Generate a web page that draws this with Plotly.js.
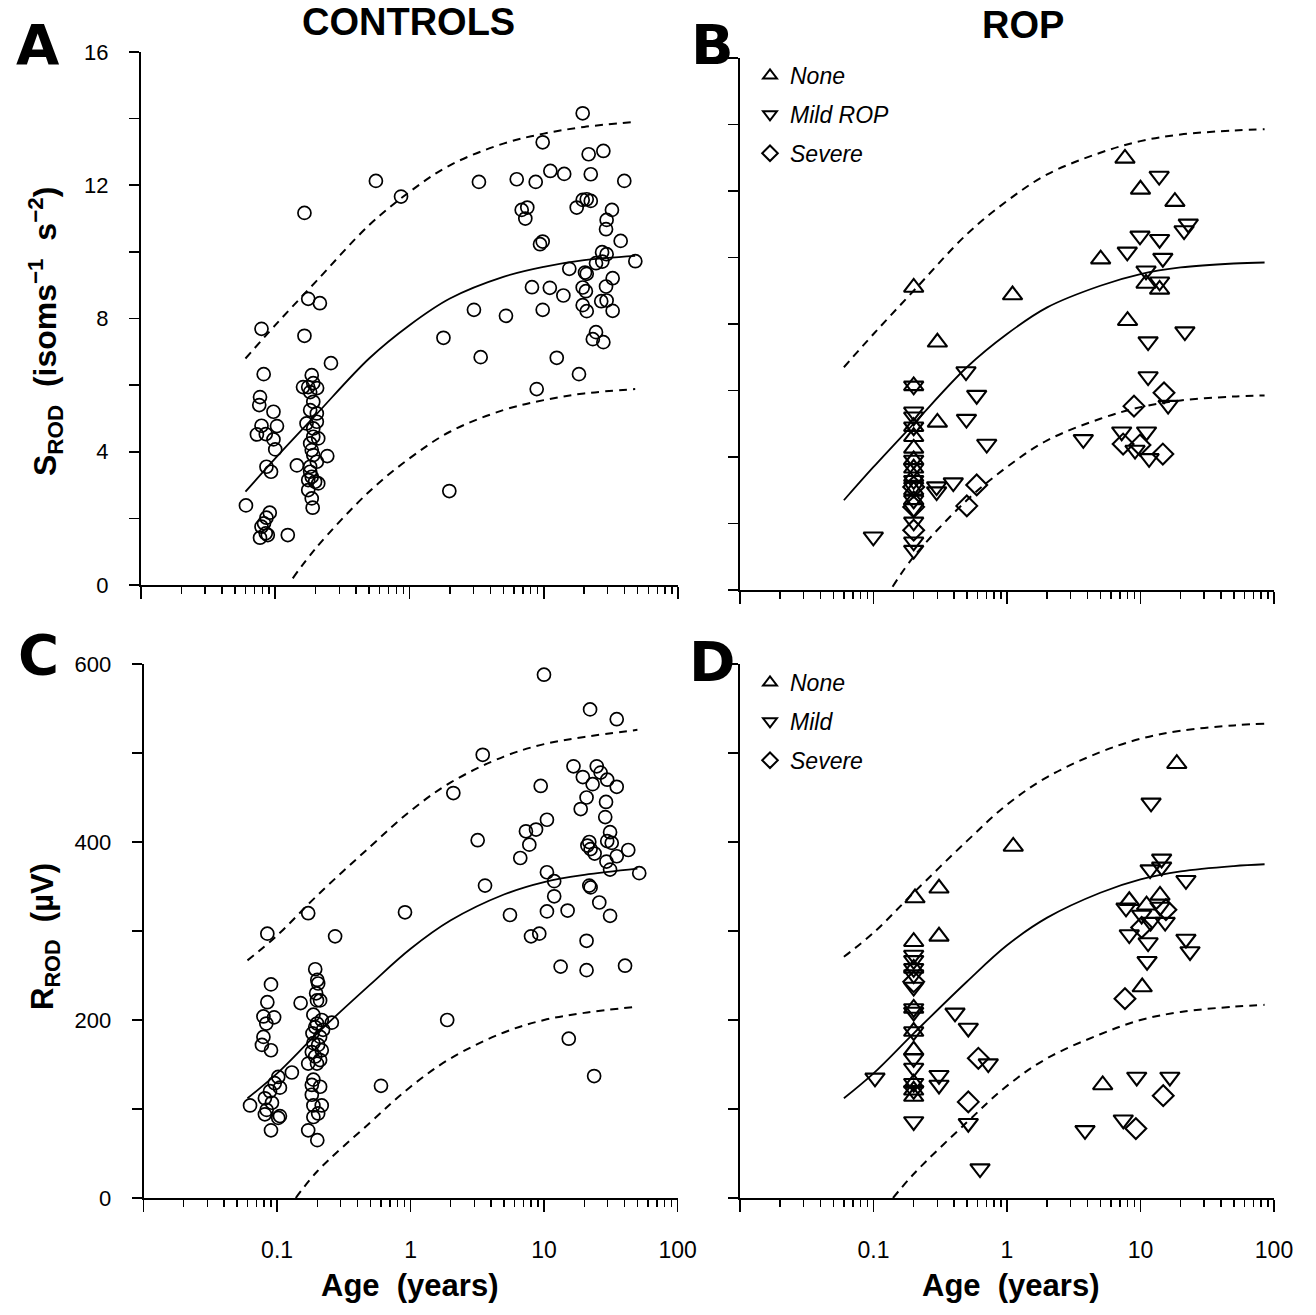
<!DOCTYPE html>
<html><head><meta charset="utf-8">
<script src="https://cdn.plot.ly/plotly-3.0.1.min.js"></script>
<style>html,body{margin:0;padding:0;background:#fff}</style>
</head><body><div id="chart" style="width:1316px;height:1315px"></div>
<script>
// ---------- Panel A: controls, S_ROD ----------
const aAge = [0.176,0.215,0.079,0.165,0.260,0.082,0.187,0.161,0.176,0.192,0.205,0.182,0.077,0.076,0.097,0.192,0.182,0.204,0.204,0.171,0.079,0.103,0.192,0.073,0.085,0.097,0.192,0.209,0.182,0.100,0.187,0.192,0.244,0.145,0.086,0.093,0.204,0.182,0.182,0.187,0.176,0.198,0.209,0.176,0.187,0.190,0.0605,0.091,0.086,0.0825,0.079,0.085,0.088,0.077,0.124,0.165,0.562,0.865,
  19.5,9.82,21.6,27.8,3.29,6.29,8.71,11.2,14.2,22.4,39.8,19.5,20.9,22.4,17.6,6.85,7.54,7.29,32.2,29.4,29.1,37.4,9.38,9.82,27.2,29.4,27.3,24.5,48.1,15.5,20.3,20.9,32.6,8.17,11.1,14.0,19.5,20.6,29.1,26.8,29.4,3.02,5.23,9.82,19.5,20.9,32.6,1.79,24.5,23.2,27.8,3.39,12.5,18.3,8.86,1.98];
const aSrod = [8.59,8.46,7.69,7.48,6.66,6.33,6.30,5.94,5.94,6.06,5.91,5.79,5.64,5.40,5.20,5.50,5.25,5.15,4.90,4.85,4.78,4.77,4.70,4.52,4.53,4.37,4.45,4.40,4.25,4.07,4.05,3.90,3.87,3.59,3.55,3.40,3.70,3.55,3.40,3.25,3.15,3.10,3.05,2.85,2.60,2.32,2.39,2.17,2.02,1.85,1.75,1.55,1.50,1.42,1.50,11.17,12.13,11.66,
  14.16,13.29,12.93,13.03,12.10,12.18,12.10,12.43,12.34,12.33,12.13,11.56,11.58,11.53,11.33,11.26,11.33,11.00,11.26,10.96,10.68,10.33,10.23,10.31,9.99,9.93,9.71,9.66,9.72,9.49,9.38,9.34,9.21,8.94,8.92,8.69,8.93,8.82,8.96,8.52,8.54,8.26,8.08,8.26,8.40,8.22,8.23,7.42,7.59,7.38,7.29,6.84,6.82,6.33,5.88,2.82];

// ---------- Panel B: ROP, S_ROD ----------
const bNoneAge = [0.2,1.10,0.301,0.2,0.2,0.2,0.2,0.2,0.2,0.2,0.2,0.2,0.301,7.65,10.0,18.1,5.03,11.0,13.9,8.0];
const bNoneS   = [9.10,8.87,7.45,6.14,4.91,4.61,4.26,3.91,3.66,3.41,3.00,2.71,5.04,12.98,12.05,11.68,9.95,9.22,9.04,8.10];
const bMildAge = [0.493,0.2,0.593,0.2,0.2,0.497,0.2,0.705,0.2,0.2,0.2,0.2,0.297,0.297,0.396,0.2,0.2,0.2,0.2,0.2,0.0997,
  13.8,22.8,21.2,9.91,13.9,7.96,14.7,11.0,13.9,21.5,11.4,11.4,16.1,3.73,7.23,11.1,9.10,11.6];
const bMildS   = [6.57,6.14,5.86,5.36,5.21,5.14,4.91,4.39,3.91,3.66,3.30,3.10,3.11,2.96,3.23,2.71,2.46,2.05,1.45,1.20,1.60,
  12.45,11.01,10.81,10.65,10.55,10.17,9.98,9.60,9.27,7.77,7.47,6.42,5.56,4.53,4.76,4.76,4.21,3.96];
const bSevAge = [0.593,0.50,0.2,0.2,0.2,15.0,8.94,7.41,9.91,14.7];
const bSevS   = [3.16,2.53,3.10,2.50,1.80,5.93,5.53,4.39,4.36,4.09];

// ---------- Panel C: controls, R_ROD ----------
const cAge = [0.171,0.0845,0.272,0.193,0.200,0.203,0.090,0.196,0.210,0.199,0.0845,0.150,0.079,0.095,0.083,0.187,0.216,0.199,0.193,0.221,0.257,0.184,0.210,0.079,0.077,0.090,0.187,0.203,0.182,0.216,0.193,0.210,0.171,0.199,0.129,0.102,0.096,0.105,0.0885,0.187,0.182,0.210,0.0627,0.081,0.0915,0.0835,0.081,0.182,0.187,0.216,0.203,0.187,0.105,0.102,0.090,0.171,0.200,0.908,0.600,
  9.98,22.1,35.0,3.47,2.09,9.43,16.6,19.5,24.8,26.5,23.1,29.7,35.0,20.8,18.8,29.1,28.7,10.5,7.31,8.70,7.75,6.63,3.18,31.2,29.7,32.1,21.8,21.1,22.3,23.9,42.7,35.0,29.3,31.2,51.6,10.5,11.9,3.61,21.8,22.3,11.9,25.9,5.55,10.5,15.0,31.2,7.98,9.20,20.8,13.3,20.8,40.4,1.88,15.3,23.7];
const cRrod = [320,297,294,257,245,241,240,230,222,222,220,219,204,203,196,206,200,196,192,189,197,185,181,181,172,166,174,172,164,166,159,155,151,151,141,136,129,124,120,133,127,125,104,112,107,99,94,116,104,104,95,91,92,90,76,76,65,321,126,
  588,549,538,498,455,463,485,473,485,478,465,470,462,450,437,445,428,425,412,414,397,382,402,411,401,399,400,396,392,387,391,384,378,369,365,366,356,351,351,349,339,332,318,322,323,317,294,297,289,260,256,261,200,179,137];

// ---------- Panel D: ROP, R_ROD ----------
const dNoneAge = [1.114,0.3095,0.2046,0.3095,0.2,0.2,0.2,0.2,0.2,0.2,0.2,0.2,18.7,8.24,11.1,14.0,10.3,5.21];
const dNoneR   = [395,348,337,294,288,258,213,187,166,129,121,114,488,334,329,340,237,127];
const dMildAge = [0.2,0.2,0.2,0.2,0.2,0.2,0.2,0.2,0.2,0.2,0.2,0.2,0.2,0.408,0.513,0.1026,0.724,0.3095,0.3095,0.513,0.628,
  12.0,14.4,11.8,14.4,21.9,7.79,14.0,10.2,11.9,15.3,8.24,11.4,21.9,23.5,11.2,9.37,16.6,7.43,3.84];
const dMildR   = [273,267,258,251,237,213,209,187,157,146,129,121,86,208,191,135,151,138,127,84,33,
  444,381,369,372,357,326,327,318,310,310,296,287,291,277,266,136,136,88,76];
const dSevAge = [0.610,0.513,0.2,15.5,10.2,7.65,14.8,9.23];
const dSevR   = [157,108,243,324,304,224,115,78];

// ---------- fitted curves ----------
const fitAgeA = [0.06,0.1,0.2,0.5,1,2,5,10,20,48];
const fitA    = [2.8,3.8,5.1,6.8,7.8,8.6,9.25,9.55,9.75,9.88];
const fitAUp  = [6.8,7.8,9.1,10.8,11.8,12.6,13.25,13.55,13.75,13.9];
const fitAgeALow = [0.135,0.2,0.5,1,2,5,10,20,48];
const fitALow = [0.2,1.1,2.8,3.8,4.6,5.25,5.55,5.75,5.88];

const fitAgeB = [0.06,0.1,0.2,0.5,1,2,5,10,20,50,85];
const fitB    = [2.7,3.7,5.0,6.7,7.7,8.5,9.15,9.5,9.7,9.82,9.85];
const fitBUp  = [6.7,7.7,9.0,10.7,11.7,12.5,13.15,13.5,13.7,13.82,13.86];
const fitAgeBLow = [0.139,0.2,0.5,1,2,5,10,20,50,85];
const fitBLow = [0.1,1.0,2.7,3.7,4.5,5.15,5.5,5.7,5.82,5.85];

const fitAgeC = [0.06,0.1,0.2,0.5,1,2,5,10,20,50];
const fitC    = [112,140,185,240,280,312,341,355,363,370];
const fitCUp  = [267,295,340,395,435,467,496,510,518,526];
const fitAgeCLow = [0.138,0.2,0.5,1,2,5,10,20,50];
const fitCLow = [0,30,85,125,157,186,200,208,215];

const fitAgeD = [0.06,0.1,0.2,0.5,1,2,5,10,20,50,85];
const fitD    = [112,140,185,243,284,315,343,358,367,373,375];
const fitDUp  = [271,298,343,401,442,473,501,516,525,531,533];
const fitAgeDLow = [0.14,0.2,0.5,1,2,5,10,20,50,85];
const fitDLow = [0,27,85,126,157,184,200,209,215,217];

// ---------- axis tick labels ----------
const xTickVals = [0.01,0.1,1,10,100];
const xTickText = ['','0.1','1','10','100'];
const ySTickVals = [0,2,4,6,8,10,12,14,16];
const ySTickText = ['0','','4','','8','','12','','16'];
const yRTickVals = [0,100,200,300,400,500,600];
const yRTickText = ['0','','200','','400','','600'];

// ---------- build ----------
const minorX = [];
[0.01,0.1,1,10].forEach(d => { for (let k = 2; k <= 9; k++) minorX.push(+(d*k).toPrecision(3)); });

const W = 1316, H = 1315;
const FONT = 'Liberation Sans, Arial, sans-serif';
function xdom(l, r) { return [l / W, r / W]; }
function ydom(top, bottom) { return [1 - bottom / H, 1 - top / H]; }

function xAxis(dom, anchor, showLabels) {
  return {type: 'log', range: [-2, 2], domain: dom, anchor: anchor,
    tickmode: 'array', tickvals: xTickVals, ticktext: xTickText, showticklabels: showLabels,
    ticks: 'outside', ticklen: 12, tickwidth: 1.6, tickcolor: '#000',
    minor: {tickvals: minorX, ticks: 'outside', ticklen: 7, tickwidth: 1.4, tickcolor: '#000', showgrid: false},
    showline: true, linecolor: '#000', linewidth: 2, showgrid: false, zeroline: false,
    tickfont: {family: FONT, size: 23, color: '#000'}, ticklabelstandoff: 18};
}
function yAxis(dom, anchor, range, vals, text, showLabels) {
  return {range: range, domain: dom, anchor: anchor,
    tickmode: 'array', tickvals: vals, ticktext: text, showticklabels: showLabels,
    ticks: 'outside', ticklen: 10, tickwidth: 1.6, tickcolor: '#000',
    showline: true, linecolor: '#000', linewidth: 2, showgrid: false, zeroline: false,
    tickfont: {family: FONT, size: 22, color: '#000'}, ticklabelstandoff: 16};
}

function pts(x, y, sym, size, lw, xa, ya, extra) {
  return Object.assign({type: 'scatter', mode: 'markers', x: x, y: y, xaxis: xa, yaxis: ya,
    marker: {symbol: sym, size: size, color: '#000', line: {color: '#000', width: lw}},
    showlegend: false, hoverinfo: 'skip'}, extra || {});
}
function curve(x, y, dashed, xa, ya) {
  return {type: 'scatter', mode: 'lines', x: x, y: y, xaxis: xa, yaxis: ya,
    line: {color: '#000', width: dashed ? 2 : 1.8, dash: dashed ? '8px,6px' : 'solid', shape: 'spline', smoothing: 1},
    showlegend: false, hoverinfo: 'skip'};
}

const traces = [
  curve(fitAgeA, fitA, false, 'x', 'y'), curve(fitAgeA, fitAUp, true, 'x', 'y'), curve(fitAgeALow, fitALow, true, 'x', 'y'),
  pts(aAge, aSrod, 'circle-open', 13, 1.7, 'x', 'y'),

  curve(fitAgeB, fitB, false, 'x2', 'y2'), curve(fitAgeB, fitBUp, true, 'x2', 'y2'), curve(fitAgeBLow, fitBLow, true, 'x2', 'y2'),
  pts(bNoneAge, bNoneS, 'triangle-up-open', 17, 2.1, 'x2', 'y2', {name: 'None', showlegend: true, legend: 'legend', legendgroup: 'b1'}),
  pts(bMildAge, bMildS, 'triangle-down-open', 17, 2.1, 'x2', 'y2', {name: 'Mild ROP', showlegend: true, legend: 'legend', legendgroup: 'b2'}),
  pts(bSevAge, bSevS, 'diamond-open', 16, 2.1, 'x2', 'y2', {name: 'Severe', showlegend: true, legend: 'legend', legendgroup: 'b3'}),

  curve(fitAgeC, fitC, false, 'x3', 'y3'), curve(fitAgeC, fitCUp, true, 'x3', 'y3'), curve(fitAgeCLow, fitCLow, true, 'x3', 'y3'),
  pts(cAge, cRrod, 'circle-open', 13, 1.7, 'x3', 'y3'),

  curve(fitAgeD, fitD, false, 'x4', 'y4'), curve(fitAgeD, fitDUp, true, 'x4', 'y4'), curve(fitAgeDLow, fitDLow, true, 'x4', 'y4'),
  pts(dNoneAge, dNoneR, 'triangle-up-open', 17, 2.1, 'x4', 'y4', {name: 'None', showlegend: true, legend: 'legend2', legendgroup: 'd1'}),
  pts(dMildAge, dMildR, 'triangle-down-open', 17, 2.1, 'x4', 'y4', {name: 'Mild', showlegend: true, legend: 'legend2', legendgroup: 'd2'}),
  pts(dSevAge, dSevR, 'diamond-open', 16, 2.1, 'x4', 'y4', {name: 'Severe', showlegend: true, legend: 'legend2', legendgroup: 'd3'})
];

function ann(text, px, py, size, opts) {
  return Object.assign({text: text, x: px / W, y: 1 - py / H, xref: 'paper', yref: 'paper',
    xanchor: 'center', yanchor: 'middle', showarrow: false,
    font: {family: FONT, size: size, color: '#000'}}, opts || {});
}
const LET = {family: 'DejaVu Sans, sans-serif', size: 56, color: '#000', weight: 'bold'};
const BOLD = s => ({family: FONT, size: s, color: '#000', weight: 'bold'});
const legendStyle = {font: {family: FONT, size: 23, color: '#000', style: 'italic'}, bgcolor: 'rgba(0,0,0,0)',
  xanchor: 'left', yanchor: 'top', itemsizing: 'constant', tracegroupgap: 6, traceorder: 'grouped'};

const layout = {
  width: W, height: H, margin: {l: 0, r: 0, t: 0, b: 0},
  paper_bgcolor: '#fff', plot_bgcolor: '#fff', showlegend: true,
  xaxis: xAxis(xdom(141, 678), 'y', false),
  yaxis: yAxis(ydom(52, 585), 'x', [0, 16], ySTickVals, ySTickText, true),
  xaxis2: xAxis(xdom(740, 1274), 'y2', false),
  yaxis2: yAxis(ydom(58, 590), 'x2', [0, 16], ySTickVals, ySTickText, false),
  xaxis3: xAxis(xdom(143.6, 677.6), 'y3', true),
  yaxis3: yAxis(ydom(664, 1198), 'x3', [0, 600], yRTickVals, yRTickText, true),
  xaxis4: xAxis(xdom(740, 1274), 'y4', true),
  yaxis4: yAxis(ydom(664, 1198), 'x4', [0, 600], yRTickVals, yRTickText, false),
  legend: Object.assign({x: 750 / W, y: 1 - 54 / H}, legendStyle),
  legend2: Object.assign({x: 750 / W, y: 1 - 661 / H}, legendStyle),
  annotations: [
    ann('A', 38, 45, 56, {font: LET}), ann('B', 712, 45, 56, {font: LET}),
    ann('C', 38, 655, 56, {font: LET}), ann('D', 712, 662, 56, {font: LET}),
    ann('CONTROLS', 408, 22, 38, {font: BOLD(38)}),
    ann('ROP', 1023, 25, 38, {font: BOLD(38)}),
    ann('S<sub>ROD</sub>  (isoms<sup>−1</sup>  s<sup>−2</sup>)', 45, 332, 32, {textangle: -90, font: BOLD(32)}),
    ann('R<sub>ROD</sub>  (µV)', 45, 937, 31, {textangle: -90, font: BOLD(31)}),
    ann('Age  (years)', 410, 1285, 31, {font: BOLD(31)}),
    ann('Age  (years)', 1010, 1285, 31, {font: BOLD(31)})
  ]
};

Plotly.newPlot('chart', traces, layout, {displayModeBar: false, staticPlot: true});
</script></body></html>
